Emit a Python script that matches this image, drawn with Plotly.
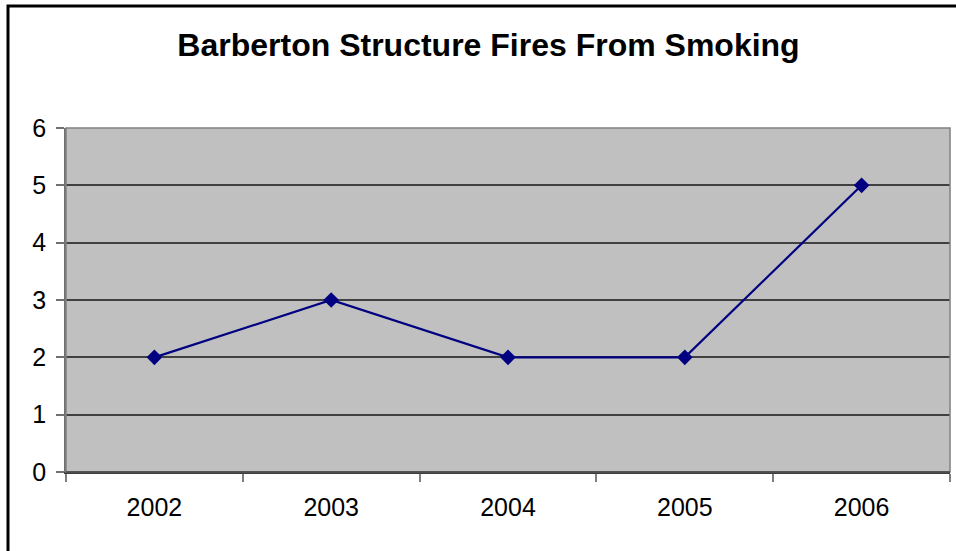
import plotly.graph_objects as go

years = ["2002", "2003", "2004", "2005", "2006"]
fires = [2, 3, 2, 2, 5]
y_ticks = [0, 1, 2, 3, 4, 5, 6]

W, H = 956, 551
L, R, T, B = 66, 6, 128, 79
pw, ph = W - L - R, H - T - B

fig = go.Figure()
fig.add_trace(go.Scatter(
    x=years, y=fires, mode="lines+markers",
    line=dict(color="#000080", width=2.2),
    marker=dict(symbol="diamond", size=12, color="#000080"),
    showlegend=False, cliponaxis=False,
))

font_family = "Arial, 'Liberation Sans', sans-serif"

fig.update_layout(
    width=W, height=H,
    margin=dict(l=L, r=R, t=T, b=B, pad=0),
    paper_bgcolor="white",
    plot_bgcolor="#C0C0C0",
    font=dict(family=font_family, size=25, color="black"),
    title=dict(
        text="<b>Barberton Structure Fires From Smoking</b>",
        font=dict(family=font_family, size=32, color="black"),
        x=488.5 / W, xanchor="center",
        y=1 - 45 / H, yanchor="middle", yref="container",
    ),
    xaxis=dict(
        type="category", categoryorder="array", categoryarray=years,
        range=[-0.5, 4.5],
        showgrid=False, zeroline=False,
        showline=True, linecolor="#404040", linewidth=1.5,
        ticks="outside", tickson="boundaries", ticklen=8,
        tickcolor="#808080", tickwidth=1.5,
        ticklabelstandoff=12,
        tickfont=dict(size=25),
    ),
    yaxis=dict(
        range=[0, 6], tickvals=y_ticks, ticktext=[str(v) for v in y_ticks],
        showgrid=True, gridcolor="#404040", gridwidth=1.5,
        zeroline=False,
        showline=True, linecolor="#707070", linewidth=1.5,
        ticks="outside", ticklen=8, tickcolor="#707070", tickwidth=1.5,
        ticklabelstandoff=5,
        tickfont=dict(size=25),
    ),
)

# plot-area border (top / right in gray)
fig.add_shape(type="rect", xref="paper", yref="paper",
              x0=0, x1=1, y0=0, y1=1,
              line=dict(color="#808080", width=1.5), layer="above")
# bottom axis line on top
fig.add_shape(type="line", xref="paper", yref="paper",
              x0=0, x1=1, y0=0, y1=0,
              line=dict(color="#404040", width=1.5), layer="above")

# outer chart border (extends past right and bottom edges)
def px_x(v):
    return (v - L) / pw

def px_y(v):
    return (H - B - v) / ph

fig.add_shape(type="rect", xref="paper", yref="paper",
              x0=px_x(8), x1=px_x(W + 10), y0=px_y(H + 10), y1=px_y(6),
              line=dict(color="black", width=3), layer="above")

fig.write_html("out.html",
               config={"displayModeBar": False},
               post_script="document.body.style.margin='0';document.body.style.overflow='hidden';")
